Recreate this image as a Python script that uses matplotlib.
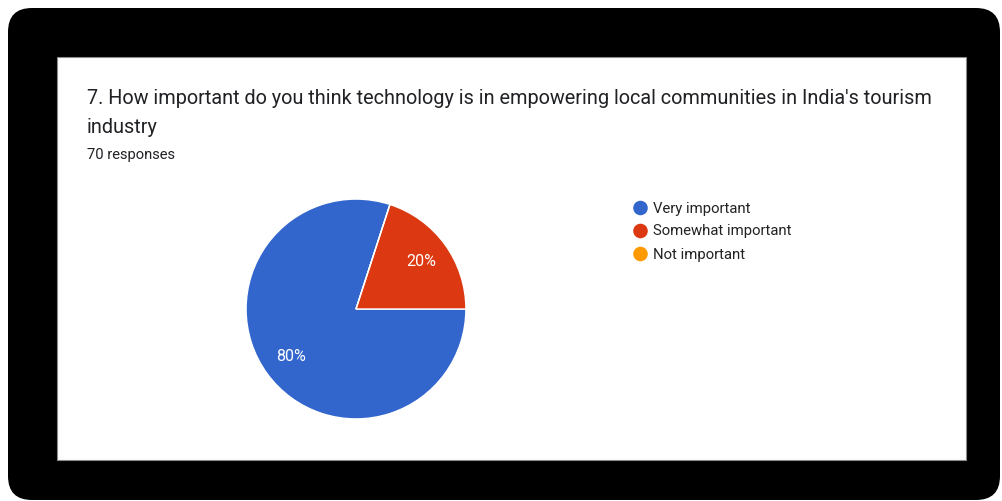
import matplotlib
matplotlib.use("Agg")
import matplotlib.pyplot as plt
from matplotlib.patches import FancyBboxPatch, Rectangle

plt.rcParams['font.family'] = ['Roboto', 'DejaVu Sans']

title_lines = ["7. How important do you think technology is in empowering local communities in India's tourism",
               "industry"]
subtitle = "70 responses"
categories = ["Very important", "Somewhat important", "Not important"]
shares = [80, 20, 0]
colors = ["#3366CC", "#DC3912", "#FF9900"]

W, H = 1003, 501
fig = plt.figure(figsize=(W / 100, H / 100), dpi=100)
fig.patch.set_facecolor("white")

# background canvas in pixel units (origin top-left)
bg = fig.add_axes([0, 0, 1, 1])
bg.set_xlim(0, W)
bg.set_ylim(H, 0)
bg.axis("off")

frame = FancyBboxPatch((8, 8), 992, 492, boxstyle="round,pad=0,rounding_size=24",
                       facecolor="black", edgecolor="none")
bg.add_patch(frame)
card = Rectangle((57, 57), 909, 403, facecolor="white", edgecolor="#8a8a8a", linewidth=0.8)
bg.add_patch(card)

for k, line in enumerate(title_lines):
    bg.text(87, 104 + 29 * k, line, fontsize=14.3, color="#202124", va="baseline", ha="left")
bg.text(87, 159, subtitle, fontsize=10.6, color="#202124", va="baseline", ha="left")

# legend entries
for i, (lab, col) in enumerate(zip(categories, colors)):
    y = 208 + 23 * i
    bg.scatter([640.5], [y], s=110, color=col, edgecolors="none", zorder=3)
    bg.text(653, y + 0.5, lab, fontsize=10.7, color="#222222", va="center", ha="left")

# pie
cx, cy, r = 356, 309, 111
pax = fig.add_axes([(cx - r) / W, (H - cy - r) / H, 2 * r / W, 2 * r / H])
wedges, texts, autotexts = pax.pie(
    shares, colors=colors, startangle=72, counterclock=True,
    autopct=lambda p: f"{p:.0f}%" if p > 0 else "", pctdistance=0.73,
    wedgeprops=dict(edgecolor="white", linewidth=1.0),
    textprops=dict(color="white", fontsize=11.5))
pax.set_xlim(-1.01, 1.01)
pax.set_ylim(-1.01, 1.01)
pax.set_aspect("equal")
pax.axis("off")

fig.savefig("out.png", dpi=100)
